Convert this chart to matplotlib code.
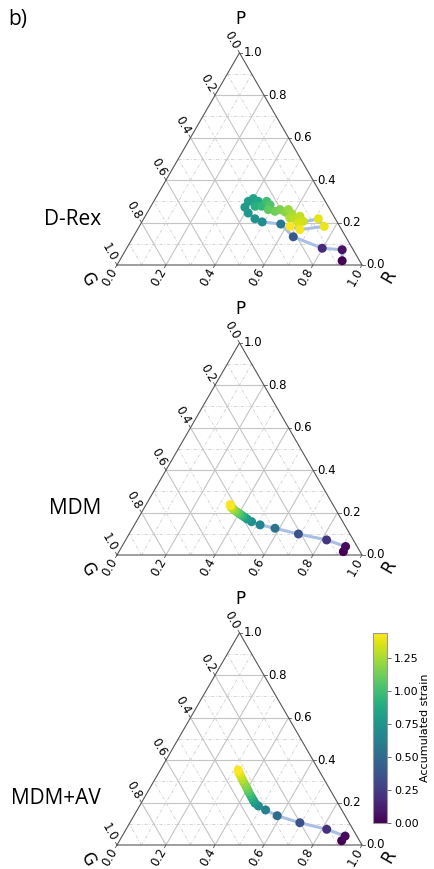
import numpy as np
import matplotlib
matplotlib.use("Agg")
import matplotlib.pyplot as plt
from matplotlib.colors import Normalize
import matplotlib.cm as cm

# ---------------- data (ternary fractions: P top, R bottom-right, G bottom-left) -------------
drex_P = [0.020, 0.072, 0.079, 0.133, 0.193, 0.203, 0.218, 0.245, 0.272, 0.300, 0.313,
          0.300, 0.277, 0.277, 0.300, 0.284, 0.261, 0.253, 0.261, 0.250, 0.261, 0.241,
          0.222, 0.218, 0.230, 0.206, 0.198, 0.218, 0.182, 0.167, 0.182]
drex_R = [0.909, 0.883, 0.798, 0.653, 0.572, 0.491, 0.454, 0.413, 0.386, 0.386, 0.400,
          0.427, 0.425, 0.452, 0.461, 0.482, 0.487, 0.518, 0.535, 0.561, 0.569, 0.593,
          0.595, 0.618, 0.632, 0.657, 0.641, 0.713, 0.755, 0.663, 0.615]
drex_strain = [0.00, 0.07, 0.17, 0.39, 0.58, 0.70, 0.74, 0.76, 0.78, 0.80, 0.83,
               0.86, 0.90, 0.95, 1.00, 1.04, 1.08, 1.12, 1.15, 1.18, 1.21, 1.24,
               1.27, 1.29, 1.31, 1.33, 1.35, 1.38, 1.40, 1.42, 1.44]

mdm_P = [0.016, 0.040, 0.071, 0.099, 0.126, 0.142, 0.157, 0.170, 0.178, 0.186,
         0.194, 0.201, 0.208, 0.215, 0.222, 0.228, 0.233, 0.236, 0.237]
mdm_R = [0.916, 0.913, 0.820, 0.691, 0.582, 0.513, 0.471, 0.446, 0.432, 0.418,
         0.404, 0.391, 0.379, 0.368, 0.358, 0.351, 0.347, 0.346, 0.343]
mdm_strain = [0.00, 0.04, 0.22, 0.36, 0.53, 0.65, 0.72, 0.78, 0.86, 0.94,
              1.02, 1.09, 1.16, 1.22, 1.28, 1.33, 1.38, 1.41, 1.44]

mdmav_P = [0.020, 0.042, 0.074, 0.105, 0.138, 0.165, 0.184, 0.197, 0.210, 0.224,
           0.238, 0.252, 0.266, 0.280, 0.294, 0.308, 0.322, 0.335, 0.346, 0.354]
mdmav_R = [0.907, 0.910, 0.819, 0.694, 0.585, 0.524, 0.485, 0.465, 0.452, 0.438,
           0.424, 0.411, 0.398, 0.385, 0.371, 0.358, 0.345, 0.333, 0.323, 0.318]
mdmav_strain = [0.00, 0.04, 0.20, 0.36, 0.50, 0.62, 0.70, 0.75, 0.82, 0.90,
                0.98, 1.05, 1.11, 1.17, 1.22, 1.27, 1.32, 1.36, 1.40, 1.44]

panel_names = ["D-Rex", "MDM", "MDM+AV"]
panels = [(drex_P, drex_R, drex_strain),
          (mdm_P, mdm_R, mdm_strain),
          (mdmav_P, mdmav_R, mdmav_strain)]
tick_values = [0.0, 0.2, 0.4, 0.6, 0.8, 1.0]
tick_labels = ["0.0", "0.2", "0.4", "0.6", "0.8", "1.0"]
major_grid = [0.2, 0.4, 0.6, 0.8]
minor_grid = [0.1, 0.3, 0.5, 0.7, 0.9]
cbar_ticks = [0.0, 0.25, 0.50, 0.75, 1.00, 1.25]
strain_min, strain_max = 0.0, 1.44

# ---------------- layout ----------------
W, H = 435, 869
fig = plt.figure(figsize=(W / 100, H / 100), dpi=100)
S = np.sqrt(3) / 2
tri_left, tri_w = 117, 245
bases = [265, 555, 845]
px = 1.0 / tri_w  # one pixel in data units

norm = Normalize(strain_min, strain_max)
cmap = plt.get_cmap("viridis")
TICK_FS = 8.5
AX_FS = 12


def tern(P, R):
    P = np.asarray(P, float)
    R = np.asarray(R, float)
    return R + P / 2, P * S


for (Pv, Rv, sv), name, base in zip(panels, panel_names, bases):
    ax = fig.add_axes([tri_left / W, (H - base) / H, tri_w / W, tri_w * S / H])
    ax.set_xlim(0, 1)
    ax.set_ylim(0, S)
    ax.axis("off")

    def gridline(v, **kw):
        ax.plot([v / 2, 1 - v / 2], [v * S, v * S], **kw)          # iso-P
        ax.plot([v, v + (1 - v) / 2], [0, (1 - v) * S], **kw)      # iso-R
        ax.plot([1 - v, (1 - v) / 2], [0, (1 - v) * S], **kw)      # iso-G

    for v in minor_grid:
        gridline(v, color="#d0d0d0", lw=0.6, ls=(0, (4, 2, 1, 2)), zorder=1)
    for v in major_grid:
        gridline(v, color="#c4c4c4", lw=0.8, ls="-", zorder=1)

    ax.plot([0, 1, 0.5, 0], [0, 0, S, 0], color="#555555", lw=0.8, zorder=2,
            clip_on=False)

    for v, lab in zip(tick_values, tick_labels):
        # P on right edge
        x0, y0 = 1 - v / 2, v * S
        ax.plot([x0, x0 + 3 * px], [y0, y0], color="#555555", lw=0.6, clip_on=False)
        ax.text(x0 + 4.5 * px, y0, lab, ha="left", va="center", fontsize=TICK_FS)
        # R on bottom edge
        d = np.array([-0.5, -S])
        x0, y0 = v, 0.0
        ax.plot([x0, x0 + 3 * px * d[0]], [y0, y0 + 3 * px * d[1]], color="#555555",
                lw=0.6, clip_on=False)
        ax.text(x0 + 5 * px * d[0], y0 + 5 * px * d[1], lab, ha="right", va="center",
                rotation=60, rotation_mode="anchor", fontsize=TICK_FS)
        # G on left edge
        d = np.array([-0.5, S])
        x0, y0 = (1 - v) / 2, (1 - v) * S
        ax.plot([x0, x0 + 3 * px * d[0]], [y0, y0 + 3 * px * d[1]], color="#555555",
                lw=0.6, clip_on=False)
        ax.text(x0 + 5 * px * d[0], y0 + 5 * px * d[1], lab, ha="right", va="center",
                rotation=-60, rotation_mode="anchor", fontsize=TICK_FS)

    ax.text(0.5 + 1 * px, S + 34 * px, "P", ha="center", va="center", fontsize=AX_FS)
    ax.text(0 - 29 * px, 0 - 14 * px, "G", ha="center", va="center", fontsize=AX_FS,
            rotation=-60)
    ax.text(1 + 27 * px, 0 - 11 * px, "R", ha="center", va="center", fontsize=AX_FS,
            rotation=60)

    x, y = tern(Pv, Rv)
    ax.plot(x, y, color="#a9bfe3", lw=2.2, zorder=3, clip_on=False,
            solid_capstyle="round", solid_joinstyle="round")
    ax.scatter(x, y, c=sv, cmap=cmap, norm=norm, s=42, zorder=4, clip_on=False,
               edgecolors="none")

    fig.text(101 / W, 1 - (base - 46) / H, name, ha="right", va="center",
             fontsize=15, family=["Open Sans", "DejaVu Sans"])

fig.text(8 / W, 1 - 20 / H, "b)", ha="left", va="center", fontsize=15,
         family=["Open Sans", "DejaVu Sans"])

cax = fig.add_axes([373 / W, (H - 823) / H, 14 / W, 190 / H])
sm = cm.ScalarMappable(norm=norm, cmap=cmap)
cb = fig.colorbar(sm, cax=cax, ticks=cbar_ticks)
cb.ax.set_yticklabels(["%.2f" % t for t in cbar_ticks])
cb.ax.tick_params(labelsize=8, length=3, width=0.6, color="#555555", pad=2)
cb.outline.set_edgecolor("#999999")
cb.outline.set_linewidth(0.8)
cb.set_label("Accumulated strain", fontsize=8, labelpad=1)

fig.savefig("out.png", dpi=100)
